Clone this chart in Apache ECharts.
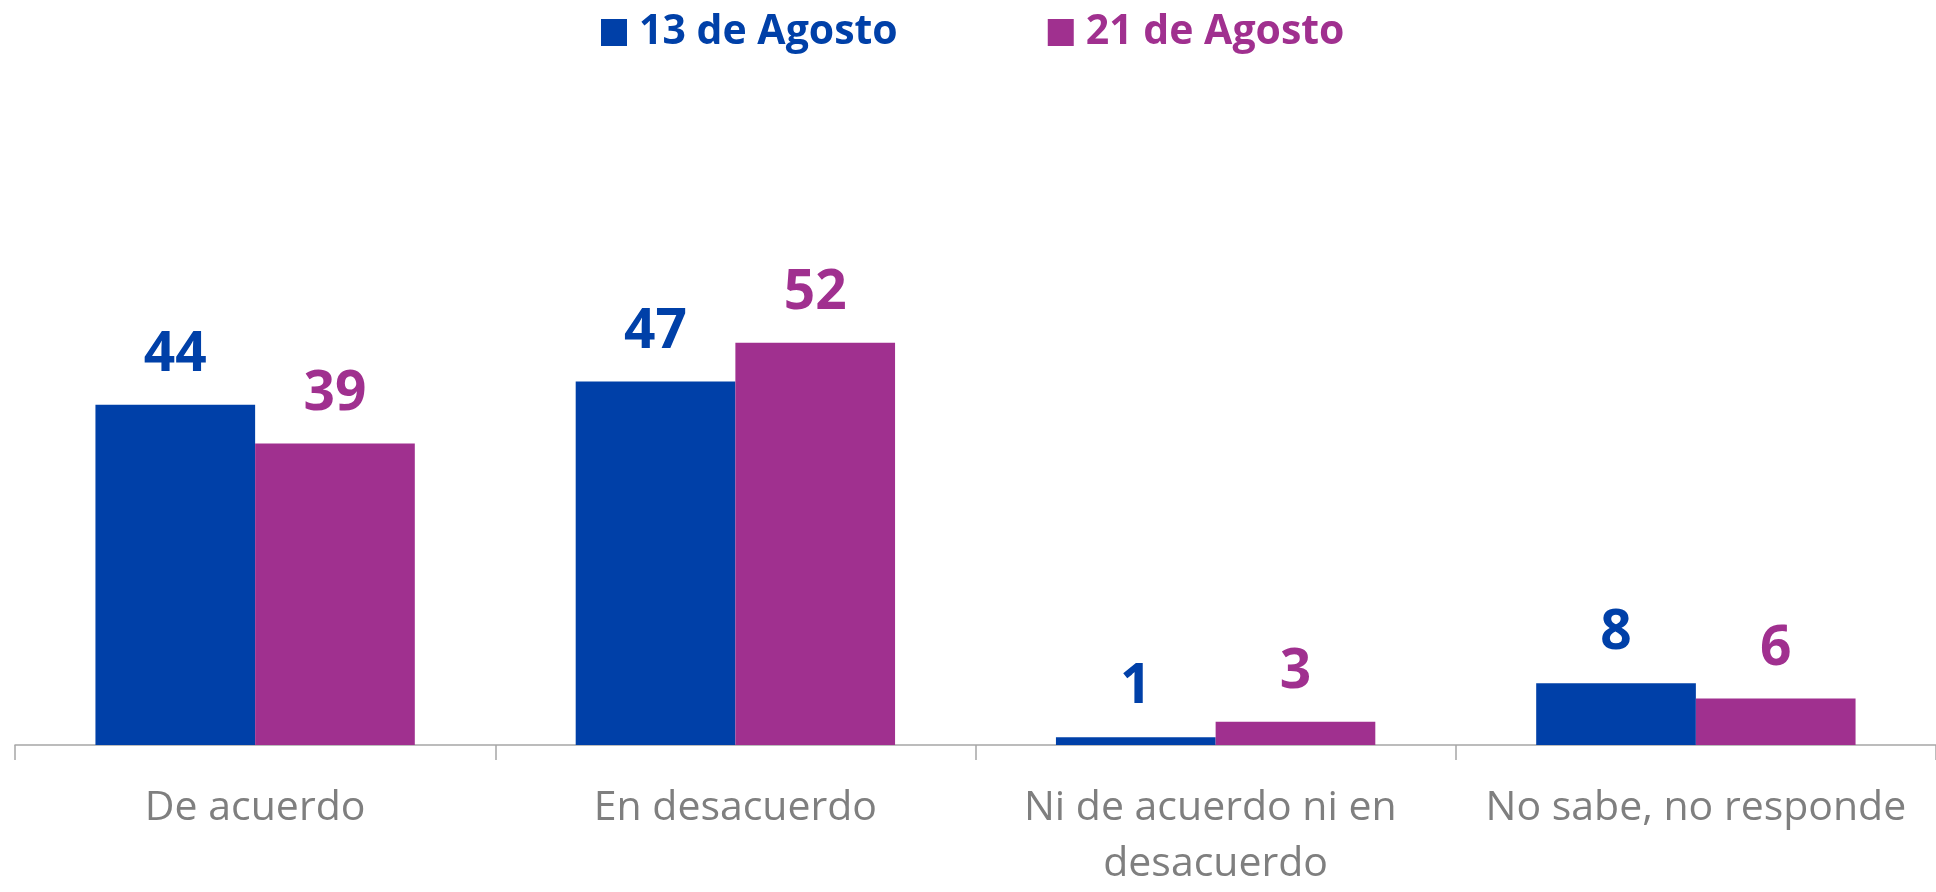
<!DOCTYPE html>
<html>
<head>
<meta charset="utf-8">
<style>
  html, body { margin: 0; padding: 0; background: #fff; }
  #chart { width: 1936px; height: 892px; }
</style>
<script src="https://cdn.jsdelivr.net/npm/echarts@6/dist/echarts.min.js"></script>
</head>
<body>
<div id="chart"></div>
<script>
(function () {
  'use strict';
  var categories = ['De acuerdo', 'En desacuerdo', 'Ni de acuerdo ni en desacuerdo', 'No sabe, no responde'];
  var seriesNames = ['13 de Agosto', '21 de Agosto'];
  var agosto13 = [44, 47, 1, 8];
  var agosto21 = [39, 52, 3, 6];

  var blue = '#0040A8';
  var purple = '#A0308F';

  var myChart = echarts.init(document.getElementById('chart'));

  function barSeries(name, data, color) {
    return {
      name: name,
      type: 'bar',
      data: data,
      barGap: 0,
      barCategoryGap: '33.5%',
      itemStyle: { color: color },
      label: {
        show: true,
        position: 'top',
        distance: 22,
        color: color,
        fontFamily: 'Open Sans',
        fontWeight: 'bold',
        fontSize: 55
      }
    };
  }

  var option = {
    animation: false,
    legend: {
      data: seriesNames,
      left: 596,
      top: 7,
      itemWidth: 26,
      itemHeight: 27,
      itemGap: 150,
      icon: 'rect',
      textStyle: {
        fontFamily: 'Open Sans',
        fontWeight: 'bold',
        fontSize: 41,
        color: 'inherit',
        padding: [0, 0, 0, 7]
      }
    },
    grid: { left: 15, right: -11, top: 281, bottom: 139 },
    xAxis: {
      type: 'category',
      data: categories,
      axisLine: { lineStyle: { color: '#a6a6a6', width: 1.5 } },
      axisTick: { show: true, length: 15, lineStyle: { color: '#a6a6a6', width: 1.5 } },
      axisLabel: {
        interval: 0,
        margin: 35,
        color: '#7f7f7f',
        fontFamily: 'Open Sans',
        fontSize: 41,
        lineHeight: 56,
        width: 440,
        overflow: 'break'
      }
    },
    yAxis: {
      type: 'value',
      min: 0,
      max: 60,
      show: false
    },
    series: [
      barSeries(seriesNames[0], agosto13, blue),
      barSeries(seriesNames[1], agosto21, purple)
    ]
  };

  myChart.setOption(option);
  window.addEventListener('resize', function () {
    myChart.resize();
  });
})();
</script>
</body>
</html>
